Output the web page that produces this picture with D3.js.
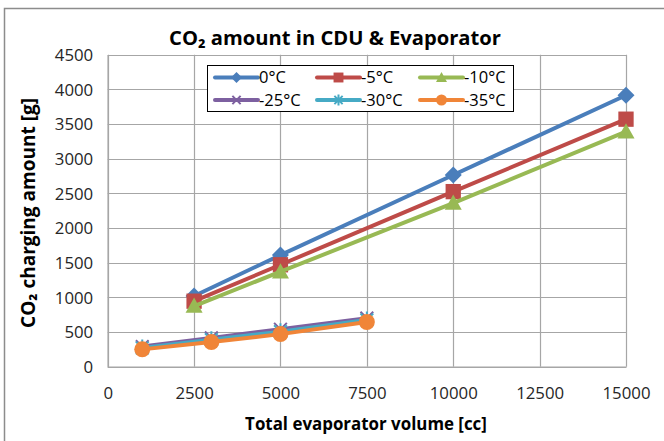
<!DOCTYPE html>
<html><head><meta charset="utf-8">
<script src="https://cdn.jsdelivr.net/npm/d3@7"></script>
<style>
html,body{margin:0;padding:0;background:#fff;}
svg{display:block;font-family:"Open Sans","Noto Sans",sans-serif;}
</style></head>
<body>
<svg id="c" width="664" height="441"></svg>
<script>
// ---- data ----
const xHigh = [2500, 5000, 10000, 15000];
const xLow = [1000, 3000, 5000, 7500];
const seriesNames = ["0°C", "-5°C", "-10°C", "-25°C", "-30°C", "-35°C"];
const s0 = [1020, 1610, 2765, 3915];
const s5 = [945, 1470, 2525, 3570];
const s10 = [875, 1370, 2360, 3390];
const s25 = [290, 415, 540, 700];
const s30 = [270, 390, 505, 675];
const s35 = [250, 355, 470, 645];
const xTicks = [0, 2500, 5000, 7500, 10000, 12500, 15000];
const yTicks = [0, 500, 1000, 1500, 2000, 2500, 3000, 3500, 4000, 4500];
const titleText = "CO₂ amount in CDU & Evaporator";
const xTitle = "Total evaporator volume [cc]";
const yTitle = "CO₂ charging amount [g]";

// ---- styling ----
const colors = ["#4A7EBB", "#BE4B48", "#98B954", "#7D60A0", "#46AAC5", "#F08538"];
const shapes = ["diamond", "square", "triangle", "x", "star", "circle"];
const xsArr = [xHigh, xHigh, xHigh, xLow, xLow, xLow];
const ysArr = [s0, s5, s10, s25, s30, s35];

const svg = d3.select("#c");
const L = 107.7, R = 626, T = 54.7, B = 366.7;
const x = d3.scaleLinear().domain([0, 15000]).range([L, R]);
const y = d3.scaleLinear().domain([0, 4500]).range([B, T]);

// outer border
svg.append("rect").attr("x", 4.5).attr("y", 8.5).attr("width", 700).attr("height", 500)
  .attr("fill", "none").attr("stroke", "#8C8C8C").attr("stroke-width", 1.5);

function fit(sel, target) {
  const n = sel.node();
  const w = n.getComputedTextLength();
  const fs = parseFloat(sel.attr("font-size"));
  sel.attr("font-size", (fs * target / w).toFixed(2));
}

// gridlines
const grid = svg.append("g");
grid.selectAll("line.h").data(yTicks).join("line")
  .attr("x1", L).attr("x2", R).attr("y1", d => Math.round(y(d)) + 0.5).attr("y2", d => Math.round(y(d)) + 0.5)
  .attr("stroke", "#A6A6A6").attr("stroke-width", 1.2);
grid.selectAll("line.v").data(xTicks).join("line")
  .attr("y1", T).attr("y2", B).attr("x1", d => Math.round(x(d)) + 0.5).attr("x2", d => Math.round(x(d)) + 0.5)
  .attr("stroke", "#A6A6A6").attr("stroke-width", 1.2);

// axes (labels)
const xAxis = d3.axisBottom(x).tickValues(xTicks).tickSize(0).tickPadding(0).tickFormat(d3.format("d"));
const gx = svg.append("g").attr("transform", `translate(0,${B})`).call(xAxis);
gx.select(".domain").attr("stroke", "#A6A6A6").attr("stroke-width", 1.5);
gx.selectAll("text").attr("font-size", 16.8).attr("fill", "#262626").attr("dy", null).attr("y", 32)
  .attr("font-family", "'Open Sans','Noto Sans',sans-serif");

const yAxis = d3.axisLeft(y).tickValues(yTicks).tickSize(0).tickPadding(0).tickFormat(d3.format("d"));
const gy = svg.append("g").attr("transform", `translate(${L},0)`).call(yAxis);
gy.select(".domain").attr("stroke", "#A6A6A6").attr("stroke-width", 1.5);
gy.selectAll("text").attr("font-size", 16.8).attr("fill", "#262626").attr("x", -14.5).attr("dy", "0.35em")
  .attr("font-family", "'Open Sans','Noto Sans',sans-serif");

// marker drawing
function marker(g, shape, color, s) {
  const h = s / 2;
  if (shape === "diamond") {
    g.append("path").attr("d", `M0,${-h}L${h},0L0,${h}L${-h},0Z`).attr("fill", color);
  } else if (shape === "square") {
    g.append("rect").attr("x", -h * 0.9).attr("y", -h * 0.9).attr("width", s * 0.9).attr("height", s * 0.9).attr("fill", color);
  } else if (shape === "triangle") {
    g.append("path").attr("d", `M0,${-h}L${h},${h * 0.8}L${-h},${h * 0.8}Z`).attr("fill", color);
  } else if (shape === "circle") {
    g.append("circle").attr("r", h).attr("fill", color);
  } else if (shape === "x") {
    const k = h * 0.75;
    g.append("path").attr("d", `M${-k},${-k}L${k},${k}M${-k},${k}L${k},${-k}`).attr("stroke", color).attr("stroke-width", 2);
  } else if (shape === "star") {
    const k = h * 0.75;
    g.append("path").attr("d", `M${-k},${-k}L${k},${k}M${-k},${k}L${k},${-k}M0,${-h}L0,${h}`).attr("stroke", color).attr("stroke-width", 2);
  }
}

const line = d3.line().x(d => x(d[0])).y(d => y(d[1]));
const plot = svg.append("g");
ysArr.forEach((ys, i) => {
  const pts = ys.map((v, j) => [xsArr[i][j], v]);
  const g = plot.append("g");
  g.append("path").attr("d", line(pts)).attr("fill", "none").attr("stroke", colors[i])
    .attr("stroke-width", 4).attr("stroke-linejoin", "round").attr("stroke-linecap", "round");
  pts.forEach(p => {
    const m = g.append("g").attr("transform", `translate(${x(p[0])},${y(p[1])})`);
    marker(m, shapes[i], colors[i], i === 0 ? 17 : (i === 5 ? 16 : 17));
  });
});

// legend
const lg = svg.append("g");
lg.append("rect").attr("x", 207.5).attr("y", 65.5).attr("width", 306).attr("height", 46)
  .attr("fill", "#fff").attr("stroke", "#000").attr("stroke-width", 1);
const colX = [215, 317, 420];
const rowY = [77.5, 100];
seriesNames.forEach((n, i) => {
  const cx = colX[i % 3], cy = rowY[Math.floor(i / 3)];
  lg.append("line").attr("x1", cx).attr("x2", cx + 43).attr("y1", cy).attr("y2", cy)
    .attr("stroke", colors[i]).attr("stroke-width", 4).attr("stroke-linecap", "round");
  const m = lg.append("g").attr("transform", `translate(${cx + 21.5},${cy})`);
  marker(m, shapes[i], colors[i], 11);
  lg.append("text").attr("x", cx + 44).attr("y", cy).attr("dy", "0.36em")
    .attr("font-size", 16.5).attr("fill", "#000").text(n);
});

// titles
const t = svg.append("text").attr("x", 335).attr("y", 38).attr("dy", "0.36em").attr("text-anchor", "middle")
  .attr("font-weight", "bold").attr("font-size", 20).attr("fill", "#000").text(titleText);
fit(t, 332);
const xt = svg.append("text").attr("x", 366).attr("y", 424).attr("dy", "0.36em").attr("text-anchor", "middle")
  .attr("font-weight", "bold").attr("font-size", 16).attr("fill", "#000").text(xTitle);
fit(xt, 242);
const yt = svg.append("text").attr("transform", "translate(28,213) rotate(-90)").attr("dy", "0.36em")
  .attr("text-anchor", "middle").attr("font-weight", "bold").attr("font-size", 16).attr("fill", "#000").text(yTitle);
fit(yt, 230);
</script>
</body></html>
